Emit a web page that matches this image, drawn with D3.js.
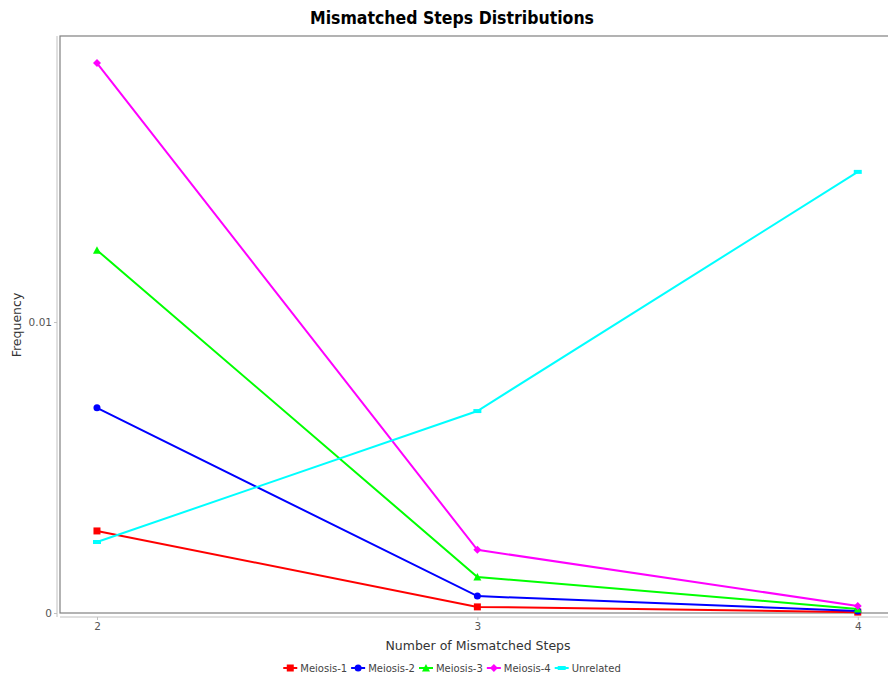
<!DOCTYPE html>
<html>
<head>
<meta charset="utf-8">
<script src="https://cdn.jsdelivr.net/npm/d3@7/dist/d3.min.js"></script>
<style>
  html, body { margin: 0; padding: 0; background: #fff; }
  svg { display: block; }
</style>
</head>
<body>
<svg id="chart" width="888" height="682"></svg>
<script>
// Mismatched step counts on the x axis
const steps = [2, 3, 4];

// Frequency of each mismatched-step count per relationship
const meiosis1 = [0.00282, 0.00021, 0.00003];
const meiosis2 = [0.00705, 0.00058, 0.00007];
const meiosis3 = [0.01247, 0.00124, 0.00014];
const meiosis4 = [0.01890, 0.00217, 0.00024];
const unrelated = [0.00244, 0.00694, 0.01516];

const seriesNames = ["Meiosis-1", "Meiosis-2", "Meiosis-3", "Meiosis-4", "Unrelated"];
const seriesValues = [meiosis1, meiosis2, meiosis3, meiosis4, unrelated];
const seriesColors = ["#ff0000", "#0000ff", "#00ff00", "#ff00ff", "#00ffff"];
const seriesShapes = ["square", "circle", "triangle", "diamond", "rect"];

const yTicks = [0, 0.01];
const yTickLabels = ["0", "0.01"];

const svg = d3.select("#chart");
const plot = { left: 60, top: 36, right: 892, bottom: 613 };

const x = d3.scaleLinear().domain([1.9028, 4.0900]).range([plot.left, plot.right]);
const y = d3.scaleLinear().domain([0, 0.01983]).range([plot.bottom, plot.top]);

// Title
svg.append("text")
  .attr("x", 452).attr("y", 24)
  .attr("text-anchor", "middle")
  .attr("font-family", "'DejaVu Sans Condensed', 'DejaVu Sans', sans-serif")
  .attr("font-weight", "bold")
  .attr("font-size", 17.5)
  .attr("fill", "#000")
  .text("Mismatched Steps Distributions");

// Plot background and outline
svg.append("rect")
  .attr("x", plot.left).attr("y", plot.top)
  .attr("width", plot.right - plot.left).attr("height", plot.bottom - plot.top)
  .attr("fill", "#fff").attr("stroke", "#808080").attr("stroke-width", 1.2);

// X axis (offset below the plot)
const xAxis = d3.axisBottom(x).tickValues(steps).tickFormat(d3.format("d")).tickSize(3).tickPadding(3);
const gx = svg.append("g").attr("transform", `translate(0,${plot.bottom + 4})`).call(xAxis);
gx.select(".domain").attr("stroke", "#c0c0c0").attr("d", `M${plot.left},0H${888}`);
gx.selectAll(".tick line").attr("stroke", "#c0c0c0");
gx.selectAll(".tick text")
  .attr("font-family", "'DejaVu Sans', sans-serif").attr("font-size", 10.5).attr("fill", "#555");

// Y axis (offset left of the plot)
const yAxis = d3.axisLeft(y).tickValues(yTicks).tickFormat((d, i) => yTickLabels[i]).tickSize(3).tickPadding(2);
const gy = svg.append("g").attr("transform", `translate(${plot.left - 3},0)`).call(yAxis);
gy.select(".domain").attr("stroke", "#c0c0c0").attr("d", `M0,${plot.top}V${plot.bottom + 4}`);
gy.selectAll(".tick line").attr("stroke", "#c0c0c0");
gy.selectAll(".tick text")
  .attr("font-family", "'DejaVu Sans', sans-serif").attr("font-size", 10.5).attr("fill", "#555");

// Axis titles
svg.append("text")
  .attr("x", 478).attr("y", 650)
  .attr("text-anchor", "middle")
  .attr("font-family", "'DejaVu Sans', sans-serif").attr("font-size", 12.5).attr("fill", "#333")
  .text("Number of Mismatched Steps");

svg.append("text")
  .attr("transform", `translate(21,325) rotate(-90)`)
  .attr("text-anchor", "middle")
  .attr("font-family", "'DejaVu Sans', sans-serif").attr("font-size", 12.5).attr("fill", "#333")
  .text("Frequency");

// Marker path builder
function shapePath(shape) {
  switch (shape) {
    case "square": return "M-3.5,-3.5h7v7h-7Z";
    case "circle": return "M-3.5,0a3.5,3.5 0 1,0 7,0a3.5,3.5 0 1,0 -7,0Z";
    case "triangle": return "M0,-4L4,3.5H-4Z";
    case "diamond": return "M0,-4L4,0L0,4L-4,0Z";
    case "rect": return "M-4,-2h8v4h-8Z";
  }
}

const line = d3.line().x(d => x(d.step)).y(d => y(d.value));

// Series lines and markers
seriesValues.forEach((vals, si) => {
  const pts = steps.map((s, i) => ({ step: s, value: vals[i] }));
  const g = svg.append("g");
  g.append("path")
    .datum(pts)
    .attr("d", line)
    .attr("fill", "none")
    .attr("stroke", seriesColors[si])
    .attr("stroke-width", 2);
  g.selectAll("path.marker")
    .data(pts)
    .join("path")
    .attr("class", "marker")
    .attr("transform", d => `translate(${x(d.step)},${y(d.value)})`)
    .attr("d", shapePath(seriesShapes[si]))
    .attr("fill", seriesColors[si]);
});

// Legend
const legend = svg.append("g");
const legendFont = { family: "'DejaVu Sans', sans-serif", size: 10 };
let items = [];
seriesNames.forEach((name, i) => {
  const gi = legend.append("g");
  gi.append("line").attr("x1", 0).attr("x2", 14).attr("y1", 0).attr("y2", 0)
    .attr("stroke", seriesColors[i]).attr("stroke-width", 2);
  gi.append("path").attr("transform", "translate(7,0)").attr("d", shapePath(seriesShapes[i]))
    .attr("fill", seriesColors[i]);
  const t = gi.append("text").attr("x", 17).attr("y", 3.5)
    .attr("font-family", legendFont.family).attr("font-size", legendFont.size)
    .attr("fill", "#444").text(name);
  items.push({ g: gi, w: 17 + t.node().getComputedTextLength() });
});
const gap = 4;
const total = d3.sum(items, d => d.w) + gap * (items.length - 1);
let cx = 452 - total / 2;
items.forEach(it => {
  it.g.attr("transform", `translate(${cx},668)`);
  cx += it.w + gap;
});
</script>
</body>
</html>
